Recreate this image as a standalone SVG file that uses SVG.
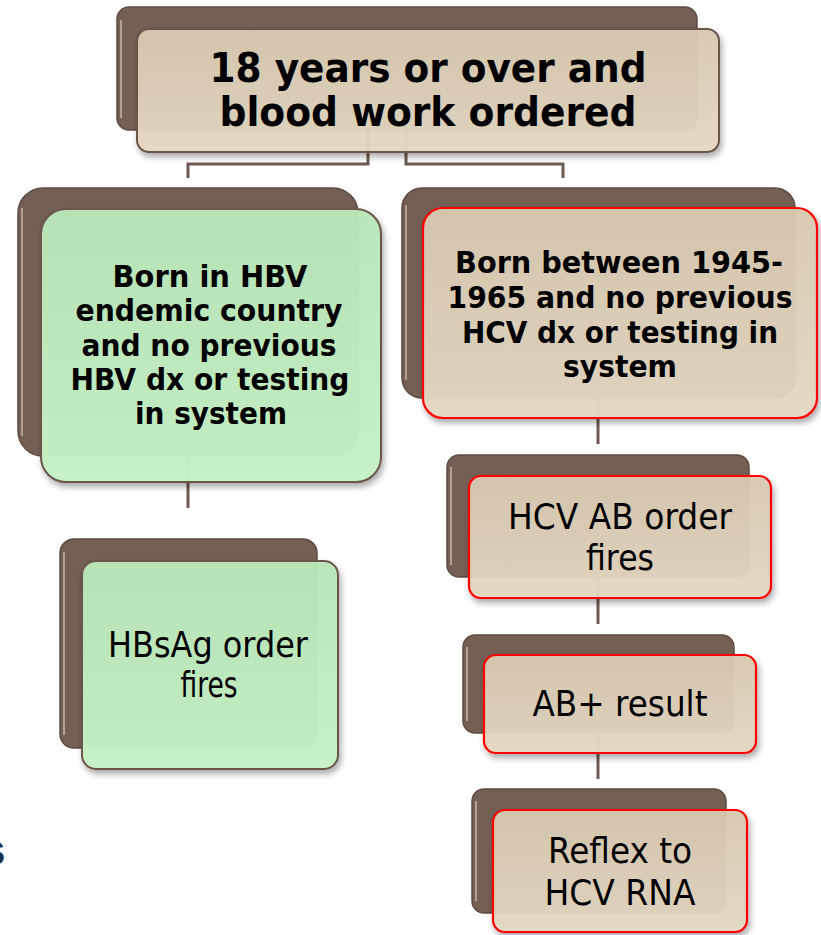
<svg xmlns="http://www.w3.org/2000/svg" width="821" height="935" viewBox="0 0 821 935">
<defs>
<linearGradient id="beige" x1="0" y1="0" x2="0" y2="1">
<stop offset="0" stop-color="#D8CAB0"/>
<stop offset="1" stop-color="#E5D9C4"/>
</linearGradient>
<linearGradient id="green" x1="0" y1="0" x2="0" y2="1">
<stop offset="0" stop-color="#B9E7B9"/>
<stop offset="1" stop-color="#C6F3C6"/>
</linearGradient>
<filter id="sh" x="-10%" y="-10%" width="125%" height="130%">
<feDropShadow dx="2" dy="4" stdDeviation="3" flood-color="#000" flood-opacity="0.35"/>
</filter>
</defs>
<style>
.back{fill:#745F55;stroke:#5F4B41;stroke-width:1.5}
.hl{fill:none;stroke:#E8DCD4;stroke-width:1.5;stroke-opacity:0.7}
.fb{fill:url(#beige);fill-opacity:0.95;stroke:#6B5549;stroke-width:2;filter:url(#sh)}
.fg{fill:url(#green);fill-opacity:0.96;stroke:#6B5549;stroke-width:2;filter:url(#sh)}
.fr{fill:url(#beige);fill-opacity:0.95;stroke:#FF0000;stroke-width:2.2;filter:url(#sh)}
.conn{fill:none;stroke:#6E5A50;stroke-width:3}
.tb{font-family:"DejaVu Sans",Verdana,sans-serif;font-weight:bold;fill:#000;text-anchor:middle}
.tn{font-family:"DejaVu Sans",Verdana,sans-serif;fill:#000;text-anchor:middle}
</style>

<g id="connectors">
<path class="conn" d="M368 130 V164 H188 V178"/>
<path class="conn" d="M406 130 V164 H563 V178"/>
<path class="conn" d="M188 455 V508"/>
<path class="conn" d="M598 398 V444"/>
<path class="conn" d="M598 577 V624"/>
<path class="conn" d="M598 733 V779"/>
</g>

<g id="top">
<rect class="back" x="117" y="7" width="580" height="123" rx="12"/>
<path class="hl" d="M121 20 V118"/>
<rect class="fb" x="137" y="29" width="582" height="123" rx="12"/>
<text class="tb" x="428" y="82" font-size="40" textLength="437" lengthAdjust="spacingAndGlyphs">18 years or over and</text>
<text class="tb" x="428" y="126" font-size="40" textLength="417" lengthAdjust="spacingAndGlyphs">blood work ordered</text>
</g>

<g id="hbv">
<rect class="back" x="18" y="188" width="340" height="268" rx="25"/>
<path class="hl" d="M22 208 V436"/>
<rect class="fg" x="41" y="209" width="340" height="273" rx="25"/>
<g font-size="30">
<text class="tb" x="210" y="287" textLength="195" lengthAdjust="spacingAndGlyphs">Born in HBV</text>
<text class="tb" x="209" y="321" textLength="267" lengthAdjust="spacingAndGlyphs">endemic country</text>
<text class="tb" x="209" y="356" textLength="255" lengthAdjust="spacingAndGlyphs">and no previous</text>
<text class="tb" x="210" y="390" textLength="279" lengthAdjust="spacingAndGlyphs">HBV dx or testing</text>
<text class="tb" x="211" y="424" textLength="152" lengthAdjust="spacingAndGlyphs">in system</text>
</g>
</g>

<g id="hbsag">
<rect class="back" x="60" y="539" width="257" height="209" rx="14"/>
<path class="hl" d="M64 552 V735"/>
<rect class="fg" x="82" y="561" width="256" height="208" rx="14"/>
<text class="tn" x="208" y="657" font-size="35" textLength="200" lengthAdjust="spacingAndGlyphs">HBsAg order</text>
<text class="tn" x="209" y="697" font-size="35" textLength="57" lengthAdjust="spacingAndGlyphs">fires</text>
</g>

<g id="hcv">
<rect class="back" x="402" y="188" width="393" height="210" rx="20"/>
<path class="hl" d="M406 205 V380"/>
<rect class="fr" x="423" y="208" width="394" height="210" rx="20"/>
<g font-size="30">
<text class="tb" x="619" y="273" textLength="328" lengthAdjust="spacingAndGlyphs">Born between 1945-</text>
<text class="tb" x="620" y="308" textLength="345" lengthAdjust="spacingAndGlyphs">1965 and no previous</text>
<text class="tb" x="620" y="343" textLength="316" lengthAdjust="spacingAndGlyphs">HCV dx or testing in</text>
<text class="tb" x="620" y="377" textLength="114" lengthAdjust="spacingAndGlyphs">system</text>
</g>
</g>

<g id="hcvab">
<rect class="back" x="447" y="455" width="302" height="122" rx="12"/>
<path class="hl" d="M451 467 V565"/>
<rect class="fr" x="469" y="476" width="302" height="122" rx="12"/>
<text class="tn" x="620" y="529" font-size="35" textLength="224" lengthAdjust="spacingAndGlyphs">HCV AB order</text>
<text class="tn" x="620" y="570" font-size="35" textLength="68" lengthAdjust="spacingAndGlyphs">fires</text>
</g>

<g id="abplus">
<rect class="back" x="463" y="635" width="271" height="98" rx="12"/>
<path class="hl" d="M467 647 V721"/>
<rect class="fr" x="484" y="655" width="272" height="98" rx="12"/>
<text class="tn" x="620" y="716" font-size="35" textLength="175" lengthAdjust="spacingAndGlyphs">AB+ result</text>
</g>

<g id="reflex">
<rect class="back" x="472" y="789" width="254" height="124" rx="12"/>
<path class="hl" d="M476 801 V901"/>
<rect class="fr" x="493" y="810" width="254" height="122" rx="12"/>
<text class="tn" x="620" y="863" font-size="35" textLength="144" lengthAdjust="spacingAndGlyphs">Reflex to</text>
<text class="tn" x="620" y="905" font-size="35" textLength="151" lengthAdjust="spacingAndGlyphs">HCV RNA</text>
</g>

<text x="-19" y="865" font-family="Liberation Sans,Arial,sans-serif" font-weight="bold" font-size="44" fill="#17324D">s</text>
</svg>
